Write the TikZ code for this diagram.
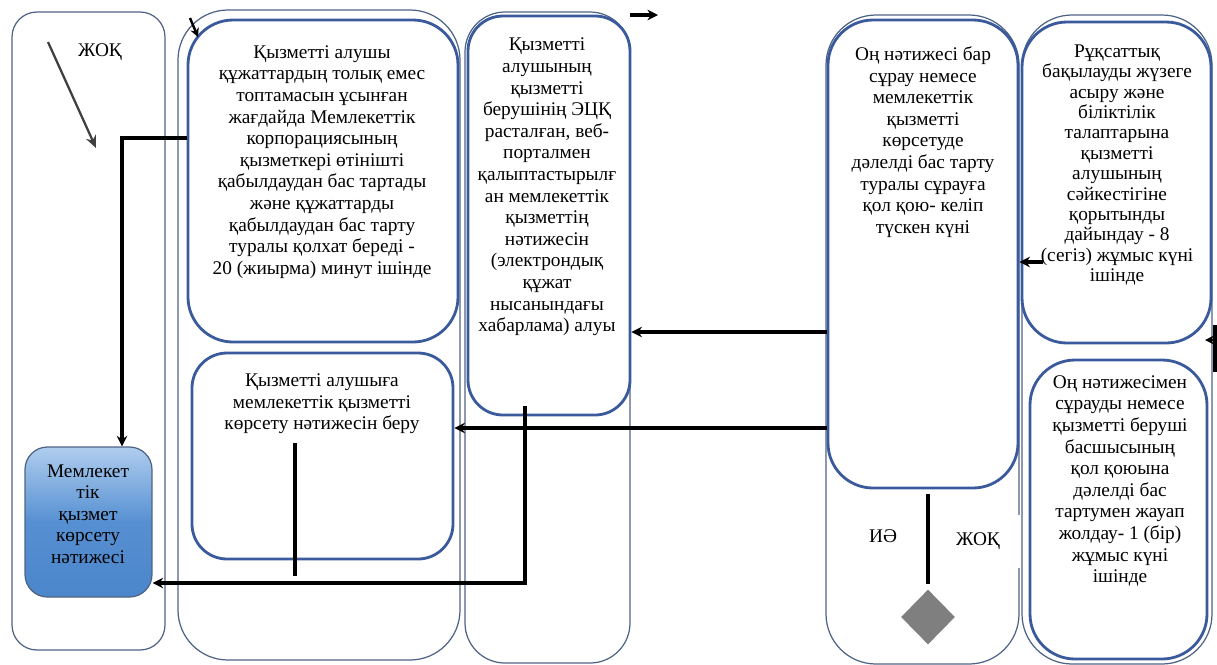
\documentclass[tikz,border=0pt]{standalone}
\usepackage{fontspec}
\setmainfont{Liberation Serif}
\newfontfamily\kzserif{Liberation Serif}
\usetikzlibrary{arrows.meta, shapes.geometric, fit, calc}

\definecolor{laneline}{HTML}{4E6384}
\definecolor{boxline}{HTML}{3A5A9C}
\definecolor{restop}{HTML}{AFCDEE}
\definecolor{resmid}{HTML}{5690D2}
\definecolor{resbot}{HTML}{4C86CB}
\definecolor{diagrey}{HTML}{7F7F7F}

\begin{document}
\begin{tikzpicture}[
    x=0.02cm, y=-0.02cm,
    lane/.style={draw=laneline, line width=0.7pt, rounded corners=#1,
                 inner sep=0pt},
    lane/.default=1cm,
    box/.style={draw=boxline, line width=1.6pt, rounded corners=#1,
                inner sep=0pt},
    box/.default=0.9cm,
    txt/.style={align=center, inner sep=0pt,
                font=\kzserif\fontsize{11}{12.3}\selectfont},
    flow/.style={line width=2pt, -{Stealth[length=6pt, width=6pt]}},
    link/.style={line width=2pt},
    >=Stealth
  ]
  \useasboundingbox (0,0) rectangle (1217,664);

  % swimlanes
  \node[lane=0.5cm, fit={(12,12) (165,650)}]    (lane1) {};
  \node[lane=1cm,   fit={(178,10) (460,660)}]   (lane2) {};
  \node[lane=0.8cm, fit={(465,12) (630,663)}]   (lane3) {};
  \node[lane=1cm,   fit={(826,15) (1019,664)}]  (lane4) {};
  \node[txt, fill=white, minimum width=1.66cm, minimum height=1.06cm]
    (no2) at (978,541) {ЖОҚ};
  \node[lane=1cm,   fit={(1022,15) (1212,664)}] (lane5) {};

  % process boxes
  \node[box=0.9cm, fit={(188,20) (458,342)}]   (boxA) {};
  \node[box=0.7cm, fit={(192,353) (453,559)}]  (boxB) {};
  \node[box=0.7cm, fit={(468,16) (630,415)}]   (boxC) {};
  \node[box=0.9cm, fit={(828,20) (1018,488)}]  (boxD) {};
  \node[box=0.9cm, fit={(1022,22) (1211,343)}] (boxE) {};
  \node[box=0.9cm, fit={(1030,360) (1207,659)}] (boxF) {};

  % result
  \node[draw=laneline, line width=0.7pt, rounded corners=0.45cm,
        inner sep=0pt, top color=restop, bottom color=resbot,
        middle color=resmid, fit={(25,447) (152,597)}] (res) {};
  \node[txt] (tres) at (88,514)
    {Мемлекет\\тік\\қызмет\\көрсету\\нәтижесі};

  % texts
  \node[txt] (tA) at (322,162)
    {Қызметті алушы\\құжаттардың толық емес\\топтамасын ұсынған\\
     жағдайда Мемлекеттік\\корпорациясының\\қызметкері өтінішті\\
     қабылдаудан бас тартады\\және құжаттарды\\қабылдаудан бас тарту\\
     туралы қолхат береді -\\20 (жиырма) минут ішінде};
  \node[txt] (tB) at (322,404)
    {Қызметті алушыға\\мемлекеттік қызметті\\көрсету нәтижесін беру};
  \node[txt] (tC) at (547,187)
    {Қызметті\\алушының\\қызметті\\берушінің ЭЦҚ\\расталған, веб-\\
     порталмен\\қалыптастырылғ\\ан мемлекеттік\\қызметтің\\нәтижесін\\
     (электрондық\\құжат\\нысанындағы\\хабарлама) алуы};
  \node[txt] (tD) at (923,142)
    {Оң нәтижесі бар\\сұрау немесе\\мемлекеттік\\қызметті\\көрсетуде\\
     дәлелді бас тарту\\туралы сұрауға\\қол қою- келіп\\түскен күні};
  \node[txt, font=\kzserif\fontsize{11}{11.6}\selectfont] (tE) at (1117,165)
    {Рұқсаттық\\бақылауды жүзеге\\асыру және\\біліктілік\\талаптарына\\
     қызметті\\алушының\\сәйкестігіне\\қорытынды\\дайындау - 8\\
     (сегіз) жұмыс күні\\ішінде};
  \node[txt] (tF) at (1120,481)
    {Оң нәтижесімен\\сұрауды немесе\\қызметті беруші\\басшысының\\
     қол қоюына\\дәлелді бас\\тартумен жауап\\жолдау- 1 (бір)\\
     жұмыс күні\\ішінде};

  % labels
  \node[txt] (no1) at (100,52) {ЖОҚ};
  \node[txt] (yes) at (883,536) {ИӘ};

  % decision
  \node[diamond, fill=diagrey, inner sep=0pt, minimum width=1.08cm,
        minimum height=1.1cm] (dia) at (928,617) {};
  \draw[link] ([yshift=-0.1cm]boxD.south -| dia.north)
    -- ([yshift=0.1cm]dia.north);

  % connectors
  \coordinate (j1) at (122,138);
  \coordinate (j2) at (525,583);
  \draw[flow] (boxA.west |- j1) -| (res.north -| j1);
  \draw[flow] ([yshift=0.2cm]boxC.south -| j2) |- (res.east |- j2);
  \draw[link] ([yshift=-0.18cm]tB.south -| 295,0) -- (295,576);
  \draw[flow] (boxD.west |- 0,332) -- (boxC.east |- 0,332);
  \draw[flow] (boxD.west |- 0,428) -- (boxB.east |- 0,428);
  \draw[flow] (1043,262) -- (boxD.east |- 0,262);

  % stray arrows
  \coordinate (s1) at (48,42);
  \coordinate (s2) at (96,148);
  \draw[line width=1.3pt, draw=black!75, -{Stealth[length=7pt, width=6pt]}]
    (s1) -- (s2);
  \draw[line width=1.4pt, -{Stealth[length=5pt, width=5pt]}]
    (190,18) -- (198,37);
  \draw[flow] (630,15) -- (658,15);
  \draw[line width=2.4pt] (1215,325) -- (1215,372);
  \draw[line width=1.4pt, -{Stealth[length=5pt, width=5pt]}]
    (1215,340) -- (1205,340);
\end{tikzpicture}
\end{document}
